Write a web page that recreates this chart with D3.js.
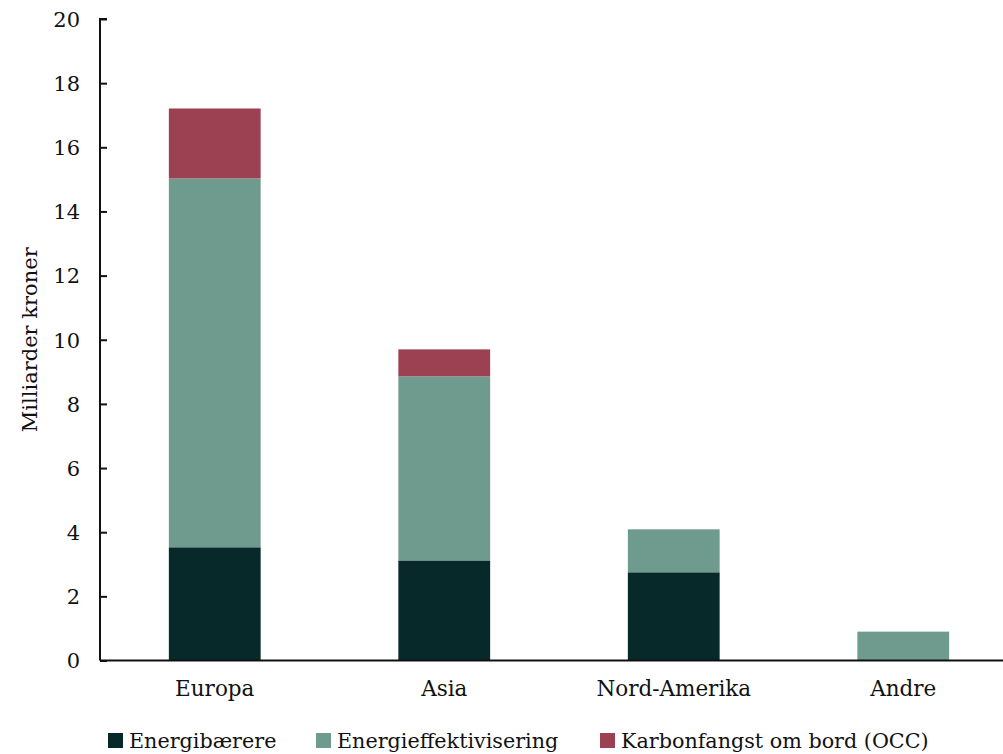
<!DOCTYPE html>
<html><head><meta charset="utf-8">
<script src="https://cdn.jsdelivr.net/npm/d3@7"></script>
<style>
html,body{margin:0;padding:0;background:#fff;}
svg{display:block;}
text{font-family:"DejaVu Serif","Liberation Serif",serif;fill:#111;}
</style></head>
<body>
<svg id="c" width="1003" height="754"></svg>
<script>
const categories = ["Europa", "Asia", "Nord-Amerika", "Andre"];
const seriesNames = ["Energibærere", "Energieffektivisering", "Karbonfangst om bord (OCC)"];
const energibaerere = [3.53, 3.12, 2.75, 0];
const energieffektivisering = [11.5, 5.74, 1.34, 0.9];
const karbonfangst = [2.18, 0.84, 0, 0];
const yTicks = [0, 2, 4, 6, 8, 10, 12, 14, 16, 18, 20];
const colors = ["#08292a", "#6f9a8e", "#9c4151"];
const yTitle = "Milliarder kroner";

const svg = d3.select("#c");
const x0 = 100, x1 = 1018, yTop = 19, yBot = 660.5;
const x = d3.scaleBand().domain(categories).range([x0, x1]).paddingInner(0.6).paddingOuter(0.3);
const y = d3.scaleLinear().domain([0, 20]).range([yBot, yTop]);

const rows = categories.map((c, i) => ({cat: c, s0: energibaerere[i], s1: energieffektivisering[i], s2: karbonfangst[i]}));
const stack = d3.stack().keys(["s0", "s1", "s2"])(rows);

svg.append("g").selectAll("g").data(stack).join("g")
  .attr("fill", (d, i) => colors[i])
  .selectAll("rect").data(d => d.filter(p => p[1] - p[0] > 0)).join("rect")
  .attr("x", d => x(d.data.cat))
  .attr("width", x.bandwidth())
  .attr("y", d => y(d[1]))
  .attr("height", d => y(d[0]) - y(d[1]));

// y axis
const ya = svg.append("g").attr("transform", `translate(${x0},0)`)
  .call(d3.axisRight(y).tickValues(yTicks).tickSize(7).tickFormat(d3.format("d")));
ya.select(".domain").attr("stroke", "#111").attr("stroke-width", 2).attr("d", `M7,${yTop}H0V${yBot}`);
ya.selectAll(".tick line").attr("stroke", "#111").attr("stroke-width", 2);
ya.selectAll(".tick text").attr("x", -20).attr("text-anchor", "end").attr("dy", "0.35em")
  .style("font-size", "21px").style("font-family", '"DejaVu Serif",serif');

// x axis
const xa = svg.append("g").attr("transform", `translate(0,${yBot})`)
  .call(d3.axisBottom(x).tickSize(0).tickPadding(20));
xa.select(".domain").attr("stroke", "#111").attr("stroke-width", 2).attr("d", `M${x0},0H${x1}`);
xa.selectAll(".tick text").style("font-size", "21.5px").style("font-family", '"DejaVu Serif",serif').attr("dy", "0.71em");

// y title
svg.append("text").attr("transform", `translate(37,${y(10)}) rotate(-90)`)
  .attr("text-anchor", "middle").style("font-size", "21px").text(yTitle);

// legend
const legX = [108, 316, 600];
const lg = svg.append("g").selectAll("g").data(seriesNames).join("g")
  .attr("transform", (d, i) => `translate(${legX[i]},733)`);
lg.append("rect").attr("width", 15).attr("height", 15).attr("fill", (d, i) => colors[i]);
lg.append("text").attr("x", 21).attr("y", 15).style("font-size", "20.7px").text(d => d);
</script>
</body></html>
